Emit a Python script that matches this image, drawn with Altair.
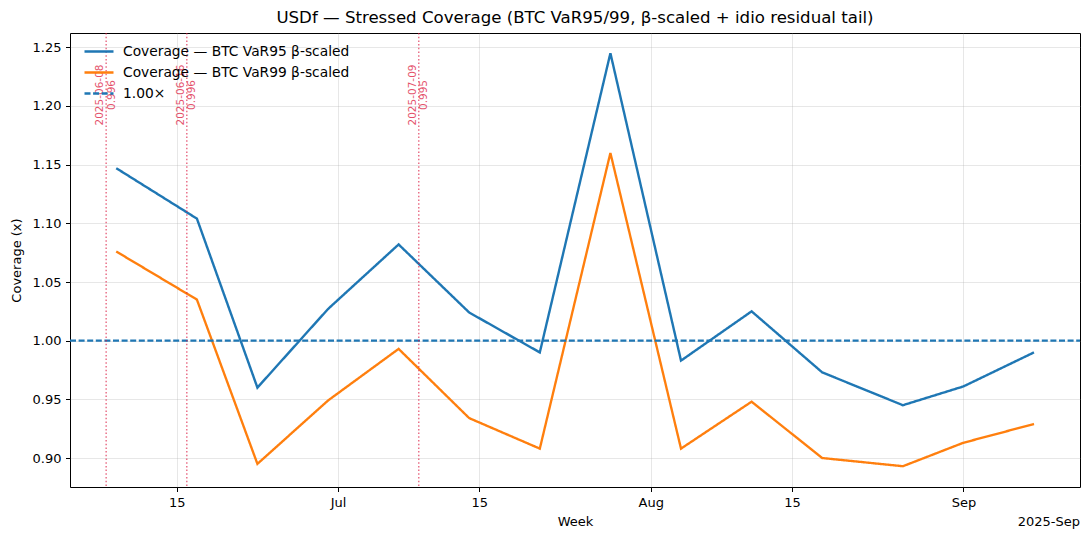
import altair as alt
import pandas as pd

weeks = ["2025-06-09", "2025-06-17", "2025-06-23", "2025-06-30", "2025-07-07",
         "2025-07-14", "2025-07-21", "2025-07-28", "2025-08-04", "2025-08-11",
         "2025-08-18", "2025-08-26", "2025-09-01", "2025-09-08"]
cov95 = [1.147, 1.104, 0.960, 1.027, 1.082, 1.024, 0.990, 1.245, 0.983, 1.025,
         0.973, 0.945, 0.961, 0.990]
cov99 = [1.076, 1.035, 0.895, 0.949, 0.993, 0.934, 0.908, 1.160, 0.908, 0.948,
         0.900, 0.893, 0.913, 0.929]
breach_dates = ["2025-06-08", "2025-06-16", "2025-07-09"]
breach_values = [0.996, 0.996, 0.995]
ref_level = 1.0
x_start = "2025-06-04T10:00:00Z"
x_end = "2025-09-12T13:30:00Z"

S95 = "Coverage — BTC VaR95 β-scaled"
S99 = "Coverage — BTC VaR99 β-scaled"
SREF = "1.00×"

rows = []
for d, v in zip(weeks, cov95):
    rows.append({"week": d, "value": v, "series": S95})
for d, v in zip(weeks, cov99):
    rows.append({"week": d, "value": v, "series": S99})
rows.append({"week": x_start, "value": ref_level, "series": SREF})
rows.append({"week": x_end, "value": ref_level, "series": SREF})
lines_df = pd.DataFrame(rows)

breach_df = pd.DataFrame({
    "date": breach_dates,
    "val": breach_values,
})
breach_df["label"] = [f"{d}\n{v:.3f}" for d, v in zip(breach_dates, breach_values)]

FONT = "DejaVu Sans"
RED = "#dc143c"

xscale = alt.Scale(type="utc", domain=[alt.DateTime(year=2025, month=6, date=4, hours=10, utc=True),
                                       alt.DateTime(year=2025, month=9, date=12, hours=13, minutes=30, utc=True)])
tick_vals = [alt.DateTime(year=2025, month=m, date=d, utc=True)
             for m, d in [(6, 15), (7, 1), (7, 15), (8, 1), (8, 15), (9, 1)]]

xaxis = alt.Axis(values=tick_vals, title="Week",
                 labelExpr="utcFormat(datum.value, '%d') == '01' ? utcFormat(datum.value, '%b') : utcFormat(datum.value, '%d')")
yaxis = alt.Axis(values=[0.90, 0.95, 1.00, 1.05, 1.10, 1.15, 1.20, 1.25], format=".2f",
                 title="Coverage (x)")
yscale = alt.Scale(domain=[0.8753, 1.2622], nice=False, zero=False)

legend_kw = dict(title=None, orient="none", legendX=13, legendY=8,
                 symbolType="stroke", symbolSize=841, symbolStrokeWidth=2.6,
                 labelFontSize=13.8, labelFont=FONT, labelColor="black", labelLimit=500,
                 clipHeight=21, rowPadding=0, labelOffset=8, padding=0)

lines = alt.Chart(lines_df).mark_line(clip=True).encode(
    x=alt.X("week:T", scale=xscale, axis=xaxis),
    y=alt.Y("value:Q", scale=yscale, axis=yaxis),
    color=alt.Color("series:N",
                    scale=alt.Scale(domain=[S95, S99, SREF], range=["#1f77b4", "#ff7f0e", "#1f77b4"]),
                    legend=alt.Legend(**legend_kw)),
    strokeDash=alt.StrokeDash("series:N",
                              scale=alt.Scale(domain=[S95, S99, SREF], range=[[1, 0], [1, 0], [6, 2.6]]),
                              legend=alt.Legend(**legend_kw)),
    strokeWidth=alt.StrokeWidth("series:N",
                                scale=alt.Scale(domain=[S95, S99, SREF], range=[2.4, 2.3, 1.7]),
                                legend=None),
)

rules = alt.Chart(breach_df).mark_rule(color=RED, opacity=0.7, strokeWidth=1.3, strokeDash=[1.5, 2.2]).encode(
    x=alt.X("date:T", scale=xscale),
)

texts = alt.Chart(breach_df).mark_text(color=RED, opacity=0.75, fontSize=10.5, font=FONT, angle=270,
                                       align="center", baseline="middle", lineBreak="\n",
                                       lineHeight=11.5, dy=-6).encode(
    x=alt.X("date:T", scale=xscale),
    y=alt.value(62),
    text="label:N",
)

offset_text = alt.Chart(pd.DataFrame({"t": ["2025-Sep"]})).mark_text(
    fontSize=13, font=FONT, align="right", baseline="middle", color="black").encode(
    x=alt.value(1010), y=alt.value(489), text="t:N")

chart = alt.layer(lines, rules, texts, offset_text).properties(
    width=1010, height=454,
    title=alt.TitleParams("USDf — Stressed Coverage (BTC VaR95/99, β-scaled + idio residual tail)",
                          font=FONT, fontSize=16.6, fontWeight="normal", color="black",
                          anchor="middle", offset=6),
    autosize=alt.AutoSizeParams(type="none"),
    padding={"left": 62, "top": 25, "right": 1, "bottom": 45},
).configure_view(
    stroke="black", strokeWidth=1
).configure_axis(
    labelFont=FONT, titleFont=FONT, labelFontSize=13, titleFontSize=13,
    titleFontWeight="normal", labelColor="black", titleColor="black",
    domain=False, tickColor="black", tickSize=4.5, labelPadding=4.5,
    gridColor="#b0b0b0", gridOpacity=0.3, gridWidth=1
).configure_axisX(
    titlePadding=6
).configure_axisY(
    titlePadding=9
)

chart.save("out.html", embed_options={"renderer": "svg", "actions": False})
